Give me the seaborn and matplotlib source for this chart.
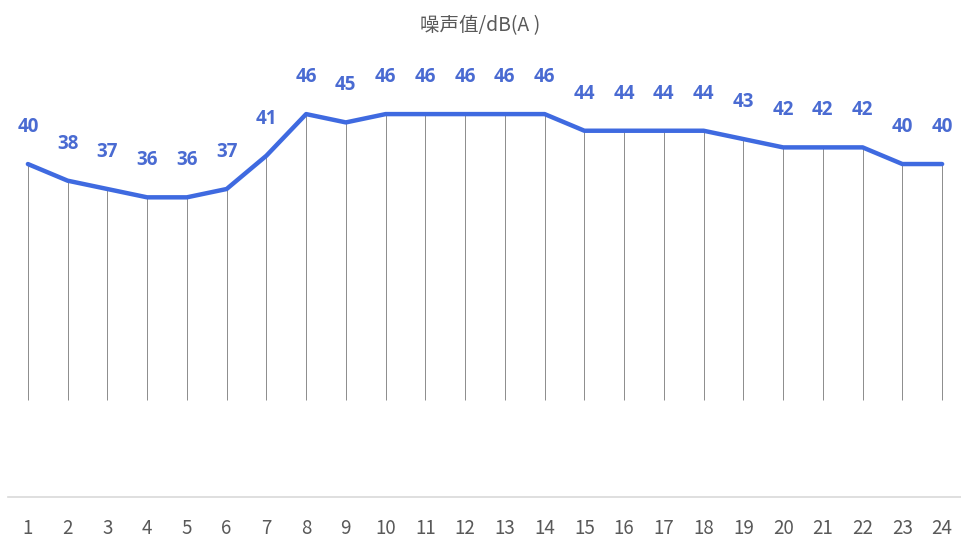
import matplotlib
matplotlib.use("Agg")
import matplotlib.pyplot as plt
import seaborn as sns
import pandas as pd

# Hourly noise readings
hours = list(range(1, 25))
noise_db = [40, 38, 37, 36, 36, 37, 41, 46, 45, 46, 46, 46, 46, 46,
            44, 44, 44, 44, 43, 42, 42, 42, 40, 40]
title_text = "噪声值/dB(A )"

df = pd.DataFrame({"hour": hours, "noise": noise_db})

sns.set_theme(style="white")
plt.rcParams["font.family"] = ["Noto Sans CJK SC", "DejaVu Sans"]

LINE_BLUE = "#3F6AE0"
LABEL_BLUE = "#4A6BD2"
TEXT_GRAY = "#595959"
DROP_BOTTOM = 11.6

fig = plt.figure(figsize=(9.62, 5.42), dpi=100)
ax = fig.add_axes([8 / 962, (542 - 497) / 542, 954 / 962, (497 - 45) / 542])

# drop lines from each reading
ax.vlines(df["hour"], DROP_BOTTOM, df["noise"], color="#8c8c8c", linewidth=0.7, zorder=1)

sns.lineplot(data=df, x="hour", y="noise", ax=ax, color=LINE_BLUE,
             linewidth=3.2, zorder=3, legend=False)

for h, v in zip(hours, noise_db):
    ax.annotate(f"{v}", (h, v), xytext=(0, 37), textcoords="offset pixels",
                ha="center", va="center", fontsize=13.5, fontweight="bold",
                color=LABEL_BLUE, family=["Open Sans", "DejaVu Sans"])

ax.set_xlim(0.5, 24.5)
ax.set_ylim(0, 54.3)
ax.set_xticks(hours)
ax.set_xticklabels([str(h) for h in hours], fontsize=13.5, color=TEXT_GRAY)
ax.tick_params(axis="x", length=0, pad=15)
ax.set_yticks([])
ax.set_xlabel("")
ax.set_ylabel("")
for side in ["top", "left", "right"]:
    ax.spines[side].set_visible(False)
ax.spines["bottom"].set_color("#d9d9d9")
ax.spines["bottom"].set_linewidth(1.2)

fig.text(480 / 962, 1 - 26 / 542, title_text, ha="center", va="center",
         fontsize=14, color=TEXT_GRAY)

fig.savefig("out.png", dpi=100, facecolor="white")
